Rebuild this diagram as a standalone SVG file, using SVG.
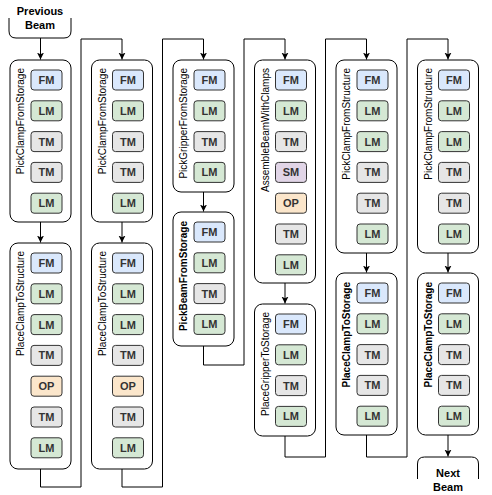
<svg xmlns="http://www.w3.org/2000/svg" width="492" height="495" viewBox="0 0 492 495">
<defs>
<marker id="arr" markerWidth="8" markerHeight="8" refX="7" refY="4" orient="auto" markerUnits="userSpaceOnUse">
<path d="M0,0.5 L7,4 L0,7.5 L1.8,4 Z" fill="#000"/>
</marker>
<style>
.node{fill:#fff;stroke:#000;stroke-width:1}
.lbl{font-family:"Liberation Sans",Arial,sans-serif;font-size:10px;fill:#000}
.lblb{font-family:"Liberation Sans",Arial,sans-serif;font-size:10px;font-weight:bold;fill:#000}
.it{stroke:#333;stroke-width:1}
.it-t{font-family:"Liberation Sans",Arial,sans-serif;font-size:11px;font-weight:bold;fill:#333;text-anchor:middle}
.FM{fill:#dae8fc}.LM{fill:#d5e8d4}.TM{fill:#e6e6e6}.SM{fill:#e1d5e7}.OP{fill:#fbe6cb}
.conn{fill:none;stroke:#000;stroke-width:1}
.term{fill:#fff;stroke:#000;stroke-width:1}
.term-t{font-family:"Liberation Sans",Arial,sans-serif;font-size:11px;font-weight:bold;fill:#000;text-anchor:middle}
</style>
</defs>
<rect width="492" height="495" fill="#fff"/>

<g id="connectors">
<path class="conn" d="M40.5,38 V59.5" marker-end="url(#arr)"/>
<path class="conn" d="M40.5,222 V242.5" marker-end="url(#arr)"/>
<path class="conn" d="M40.5,469 V487 H81 V39 H122 V59.5" marker-end="url(#arr)"/>
<path class="conn" d="M122,222 V242.5" marker-end="url(#arr)"/>
<path class="conn" d="M122,469 V487 H162.5 V39 H203.5 V59.5" marker-end="url(#arr)"/>
<path class="conn" d="M203.5,192 V211.5" marker-end="url(#arr)"/>
<path class="conn" d="M203.5,346 V365 H244 V39 H285 V59.5" marker-end="url(#arr)"/>
<path class="conn" d="M285,283 V303.5" marker-end="url(#arr)"/>
<path class="conn" d="M285,436 V457 H325.5 V39 H366.5 V59.5" marker-end="url(#arr)"/>
<path class="conn" d="M366.5,253 V272.5" marker-end="url(#arr)"/>
<path class="conn" d="M366.5,435 V457 H407 V39 H448 V59.5" marker-end="url(#arr)"/>
<path class="conn" d="M448,253 V272.5" marker-end="url(#arr)"/>
<path class="conn" d="M448,435 V456.5" marker-end="url(#arr)"/>
</g>

<g id="previous-beam">
<path class="term" d="M9,18 V31 Q9,38 16,38 H64 Q71,38 71,31 V18"/>
<text class="term-t" x="40" y="14.5">Previous</text>
<text class="term-t" x="40" y="28.5">Beam</text>
</g>

<g id="next-beam">
<path class="term" d="M417.5,479 V464 Q417.5,457 424.5,457 H471.5 Q478.5,457 478.5,464 V479"/>
<text class="term-t" x="448" y="477">Next</text>
<text class="term-t" x="448" y="491">Beam</text>
</g>

<!-- Column 1 -->
<g id="c1-pickClampFromStorage">
<rect class="node" x="10" y="60" width="61" height="162" rx="8"/>
<text class="lbl" transform="translate(24,68) rotate(-90)" text-anchor="end">PickClampFromStorage</text>
<rect class="it FM" x="31" y="70" width="31" height="20" rx="3"/><text class="it-t" x="46.5" y="84">FM</text>
<rect class="it LM" x="31" y="100.8" width="31" height="20" rx="3"/><text class="it-t" x="46.5" y="114.8">LM</text>
<rect class="it TM" x="31" y="131.6" width="31" height="20" rx="3"/><text class="it-t" x="46.5" y="145.6">TM</text>
<rect class="it TM" x="31" y="162.4" width="31" height="20" rx="3"/><text class="it-t" x="46.5" y="176.4">TM</text>
<rect class="it LM" x="31" y="193.2" width="31" height="20" rx="3"/><text class="it-t" x="46.5" y="207.2">LM</text>
</g>
<g id="c1-placeClampToStructure">
<rect class="node" x="10" y="243" width="61" height="226" rx="8"/>
<text class="lbl" transform="translate(24,251) rotate(-90)" text-anchor="end">PlaceClampToStructure</text>
<rect class="it FM" x="31" y="253" width="31" height="20" rx="3"/><text class="it-t" x="46.5" y="267">FM</text>
<rect class="it LM" x="31" y="283.8" width="31" height="20" rx="3"/><text class="it-t" x="46.5" y="297.8">LM</text>
<rect class="it LM" x="31" y="314.6" width="31" height="20" rx="3"/><text class="it-t" x="46.5" y="328.6">LM</text>
<rect class="it TM" x="31" y="345.4" width="31" height="20" rx="3"/><text class="it-t" x="46.5" y="359.4">TM</text>
<rect class="it OP" x="31" y="376.2" width="31" height="20" rx="3"/><text class="it-t" x="46.5" y="390.2">OP</text>
<rect class="it TM" x="31" y="407" width="31" height="20" rx="3"/><text class="it-t" x="46.5" y="421">TM</text>
<rect class="it LM" x="31" y="437.8" width="31" height="20" rx="3"/><text class="it-t" x="46.5" y="451.8">LM</text>
</g>

<!-- Column 2 -->
<g id="c2-pickClampFromStorage">
<rect class="node" x="91.5" y="60" width="61" height="162" rx="8"/>
<text class="lbl" transform="translate(105.5,68) rotate(-90)" text-anchor="end">PickClampFromStorage</text>
<rect class="it FM" x="112.5" y="70" width="31" height="20" rx="3"/><text class="it-t" x="128" y="84">FM</text>
<rect class="it LM" x="112.5" y="100.8" width="31" height="20" rx="3"/><text class="it-t" x="128" y="114.8">LM</text>
<rect class="it TM" x="112.5" y="131.6" width="31" height="20" rx="3"/><text class="it-t" x="128" y="145.6">TM</text>
<rect class="it TM" x="112.5" y="162.4" width="31" height="20" rx="3"/><text class="it-t" x="128" y="176.4">TM</text>
<rect class="it LM" x="112.5" y="193.2" width="31" height="20" rx="3"/><text class="it-t" x="128" y="207.2">LM</text>
</g>
<g id="c2-placeClampToStructure">
<rect class="node" x="91.5" y="243" width="61" height="226" rx="8"/>
<text class="lbl" transform="translate(105.5,251) rotate(-90)" text-anchor="end">PlaceClampToStructure</text>
<rect class="it FM" x="112.5" y="253" width="31" height="20" rx="3"/><text class="it-t" x="128" y="267">FM</text>
<rect class="it LM" x="112.5" y="283.8" width="31" height="20" rx="3"/><text class="it-t" x="128" y="297.8">LM</text>
<rect class="it LM" x="112.5" y="314.6" width="31" height="20" rx="3"/><text class="it-t" x="128" y="328.6">LM</text>
<rect class="it TM" x="112.5" y="345.4" width="31" height="20" rx="3"/><text class="it-t" x="128" y="359.4">TM</text>
<rect class="it OP" x="112.5" y="376.2" width="31" height="20" rx="3"/><text class="it-t" x="128" y="390.2">OP</text>
<rect class="it TM" x="112.5" y="407" width="31" height="20" rx="3"/><text class="it-t" x="128" y="421">TM</text>
<rect class="it LM" x="112.5" y="437.8" width="31" height="20" rx="3"/><text class="it-t" x="128" y="451.8">LM</text>
</g>

<!-- Column 3 -->
<g id="c3-pickGripperFromStorage">
<rect class="node" x="173" y="60" width="61" height="132" rx="8"/>
<text class="lbl" transform="translate(187,68) rotate(-90)" text-anchor="end">PickGripperFromStorage</text>
<rect class="it FM" x="194" y="70" width="31" height="20" rx="3"/><text class="it-t" x="209.5" y="84">FM</text>
<rect class="it LM" x="194" y="100.8" width="31" height="20" rx="3"/><text class="it-t" x="209.5" y="114.8">LM</text>
<rect class="it TM" x="194" y="131.6" width="31" height="20" rx="3"/><text class="it-t" x="209.5" y="145.6">TM</text>
<rect class="it LM" x="194" y="162.4" width="31" height="20" rx="3"/><text class="it-t" x="209.5" y="176.4">LM</text>
</g>
<g id="c3-pickBeamFromStorage">
<rect class="node" x="173" y="212" width="61" height="134" rx="8"/>
<text class="lblb" transform="translate(187,221) rotate(-90)" text-anchor="end">PickBeamFromStorage</text>
<rect class="it FM" x="194" y="222" width="31" height="20" rx="3"/><text class="it-t" x="209.5" y="236">FM</text>
<rect class="it LM" x="194" y="252.8" width="31" height="20" rx="3"/><text class="it-t" x="209.5" y="266.8">LM</text>
<rect class="it TM" x="194" y="283.6" width="31" height="20" rx="3"/><text class="it-t" x="209.5" y="297.6">TM</text>
<rect class="it LM" x="194" y="314.4" width="31" height="20" rx="3"/><text class="it-t" x="209.5" y="328.4">LM</text>
</g>

<!-- Column 4 -->
<g id="c4-assembleBeamWithClamps">
<rect class="node" x="254.5" y="60" width="61" height="223" rx="8"/>
<text class="lbl" transform="translate(268.5,68) rotate(-90)" text-anchor="end">AssembleBeamWithClamps</text>
<rect class="it FM" x="275.5" y="70" width="31" height="20" rx="3"/><text class="it-t" x="291" y="84">FM</text>
<rect class="it LM" x="275.5" y="100.8" width="31" height="20" rx="3"/><text class="it-t" x="291" y="114.8">LM</text>
<rect class="it TM" x="275.5" y="131.6" width="31" height="20" rx="3"/><text class="it-t" x="291" y="145.6">TM</text>
<rect class="it SM" x="275.5" y="162.4" width="31" height="20" rx="3"/><text class="it-t" x="291" y="176.4">SM</text>
<rect class="it OP" x="275.5" y="193.2" width="31" height="20" rx="3"/><text class="it-t" x="291" y="207.2">OP</text>
<rect class="it TM" x="275.5" y="224" width="31" height="20" rx="3"/><text class="it-t" x="291" y="238">TM</text>
<rect class="it LM" x="275.5" y="254.8" width="31" height="20" rx="3"/><text class="it-t" x="291" y="268.8">LM</text>
</g>
<g id="c4-placeGripperToStorage">
<rect class="node" x="254.5" y="304" width="61" height="132" rx="8"/>
<text class="lbl" transform="translate(268.5,312) rotate(-90)" text-anchor="end">PlaceGripperToStorage</text>
<rect class="it FM" x="275.5" y="314" width="31" height="20" rx="3"/><text class="it-t" x="291" y="328">FM</text>
<rect class="it LM" x="275.5" y="344.8" width="31" height="20" rx="3"/><text class="it-t" x="291" y="358.8">LM</text>
<rect class="it TM" x="275.5" y="375.6" width="31" height="20" rx="3"/><text class="it-t" x="291" y="389.6">TM</text>
<rect class="it LM" x="275.5" y="406.4" width="31" height="20" rx="3"/><text class="it-t" x="291" y="420.4">LM</text>
</g>

<!-- Column 5 -->
<g id="c5-pickClampFromStructure">
<rect class="node" x="336" y="60" width="61" height="193" rx="8"/>
<text class="lbl" transform="translate(350,68) rotate(-90)" text-anchor="end">PickClampFromStructure</text>
<rect class="it FM" x="357" y="70" width="31" height="20" rx="3"/><text class="it-t" x="372.5" y="84">FM</text>
<rect class="it LM" x="357" y="100.8" width="31" height="20" rx="3"/><text class="it-t" x="372.5" y="114.8">LM</text>
<rect class="it LM" x="357" y="131.6" width="31" height="20" rx="3"/><text class="it-t" x="372.5" y="145.6">LM</text>
<rect class="it TM" x="357" y="162.4" width="31" height="20" rx="3"/><text class="it-t" x="372.5" y="176.4">TM</text>
<rect class="it TM" x="357" y="193.2" width="31" height="20" rx="3"/><text class="it-t" x="372.5" y="207.2">TM</text>
<rect class="it LM" x="357" y="224" width="31" height="20" rx="3"/><text class="it-t" x="372.5" y="238">LM</text>
</g>
<g id="c5-placeClampToStorage">
<rect class="node" x="336" y="273" width="61" height="162" rx="8"/>
<text class="lblb" transform="translate(350,282) rotate(-90)" text-anchor="end">PlaceClampToStorage</text>
<rect class="it FM" x="357" y="283" width="31" height="20" rx="3"/><text class="it-t" x="372.5" y="297">FM</text>
<rect class="it LM" x="357" y="313.8" width="31" height="20" rx="3"/><text class="it-t" x="372.5" y="327.8">LM</text>
<rect class="it TM" x="357" y="344.6" width="31" height="20" rx="3"/><text class="it-t" x="372.5" y="358.6">TM</text>
<rect class="it TM" x="357" y="375.4" width="31" height="20" rx="3"/><text class="it-t" x="372.5" y="389.4">TM</text>
<rect class="it LM" x="357" y="406.2" width="31" height="20" rx="3"/><text class="it-t" x="372.5" y="420.2">LM</text>
</g>

<!-- Column 6 -->
<g id="c6-pickClampFromStructure">
<rect class="node" x="417.5" y="60" width="61" height="193" rx="8"/>
<text class="lbl" transform="translate(431.5,68) rotate(-90)" text-anchor="end">PickClampFromStructure</text>
<rect class="it FM" x="438.5" y="70" width="31" height="20" rx="3"/><text class="it-t" x="454" y="84">FM</text>
<rect class="it LM" x="438.5" y="100.8" width="31" height="20" rx="3"/><text class="it-t" x="454" y="114.8">LM</text>
<rect class="it LM" x="438.5" y="131.6" width="31" height="20" rx="3"/><text class="it-t" x="454" y="145.6">LM</text>
<rect class="it TM" x="438.5" y="162.4" width="31" height="20" rx="3"/><text class="it-t" x="454" y="176.4">TM</text>
<rect class="it TM" x="438.5" y="193.2" width="31" height="20" rx="3"/><text class="it-t" x="454" y="207.2">TM</text>
<rect class="it LM" x="438.5" y="224" width="31" height="20" rx="3"/><text class="it-t" x="454" y="238">LM</text>
</g>
<g id="c6-placeClampToStorage">
<rect class="node" x="417.5" y="273" width="61" height="162" rx="8"/>
<text class="lblb" transform="translate(431.5,282) rotate(-90)" text-anchor="end">PlaceClampToStorage</text>
<rect class="it FM" x="438.5" y="283" width="31" height="20" rx="3"/><text class="it-t" x="454" y="297">FM</text>
<rect class="it LM" x="438.5" y="313.8" width="31" height="20" rx="3"/><text class="it-t" x="454" y="327.8">LM</text>
<rect class="it TM" x="438.5" y="344.6" width="31" height="20" rx="3"/><text class="it-t" x="454" y="358.6">TM</text>
<rect class="it TM" x="438.5" y="375.4" width="31" height="20" rx="3"/><text class="it-t" x="454" y="389.4">TM</text>
<rect class="it LM" x="438.5" y="406.2" width="31" height="20" rx="3"/><text class="it-t" x="454" y="420.2">LM</text>
</g>
</svg>
